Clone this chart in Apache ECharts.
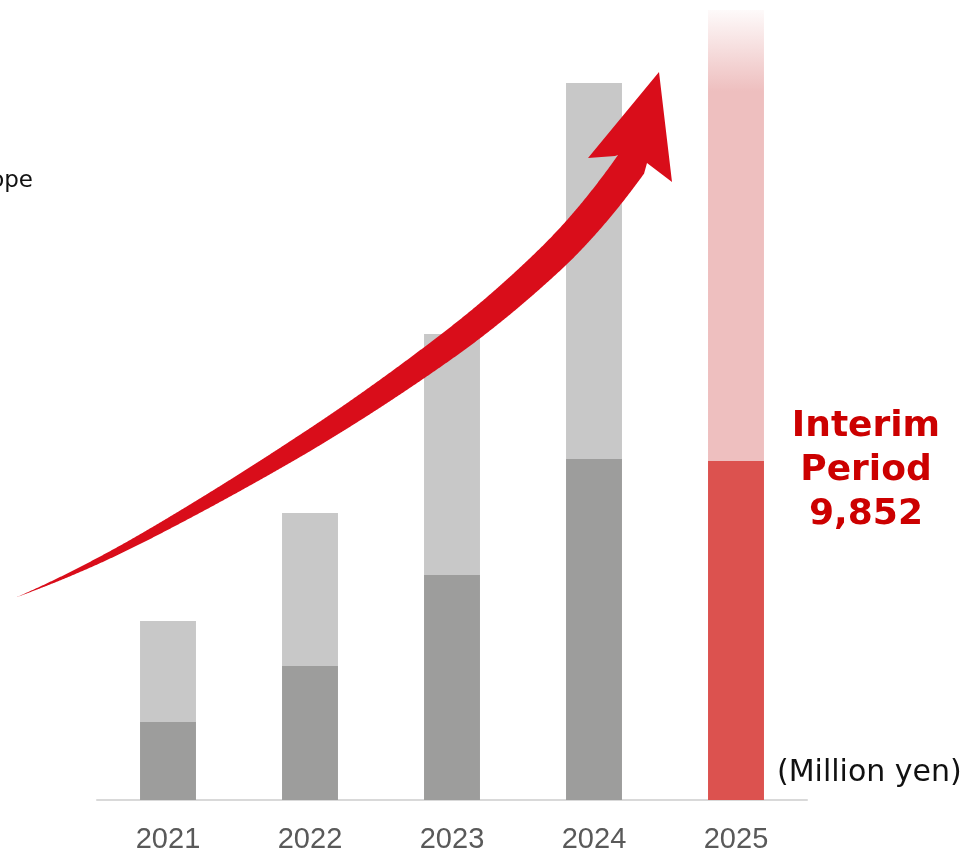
<!DOCTYPE html>
<html>
<head>
<meta charset="utf-8">
<script src="https://cdn.jsdelivr.net/npm/echarts@6/dist/echarts.min.js"></script>
<style>
html,body{margin:0;padding:0;background:#fff;}
#chart{width:970px;height:854px;}
</style>
</head>
<body>
<div id="chart"></div>
<script>
// ---- data (million yen) ----
var years = ['2021', '2022', '2023', '2024', '2025'];
var firstHalf = [2267, 3894, 6539, 9910, 9852];     // interim period (lower segment)
var secondHalf = [2935, 4446, 7004, 10927, 13107];  // remaining full-year (upper segment)
var interimLabel = 'Interim\nPeriod\n9,852';
var unitLabel = '(Million yen)';
var sideLabel = 'Scope';

var chart = echarts.init(document.getElementById('chart'), null, {renderer: 'canvas'});

var DARK = '#9d9d9c', LIGHT = '#c8c8c8', RED = '#dc524f', PINK = '#eebfbf';

var lowerData = firstHalf.map(function (v, i) {
  return i === 4 ? {value: v, itemStyle: {color: RED}} : v;
});
var upperData = secondHalf.map(function (v, i) {
  return i === 4 ? {value: v, itemStyle: {color: new echarts.graphic.LinearGradient(0, 0, 0, 1, [
    {offset: 0, color: 'rgba(238,191,191,0.08)'},
    {offset: 0.18, color: PINK},
    {offset: 1, color: PINK}
  ])}} : v;
});

// ---- decorative arrow geometry (smooth centerline from slope profile + tapering width) ----
var SX = [17, 150, 300, 450, 550, 631];
var SS = [-0.40, -0.55, -0.62, -0.74, -0.95, -1.40];
var WX = [17, 100, 200, 300, 450, 566, 631];
var WW = [0, 6, 12.5, 19, 26.5, 30.5, 32];
function lerpTable(X, Y, x) {
  if (x <= X[0]) return Y[0];
  for (var i = 1; i < X.length; i++) {
    if (x <= X[i]) {
      var f = (x - X[i-1]) / (X[i] - X[i-1]);
      return Y[i-1] + f * (Y[i] - Y[i-1]);
    }
  }
  return Y[Y.length-1];
}
function arrowPoints() {
  var upper = [], lower = [];
  var x = 17, y = 597, dx = 1;
  while (true) {
    var s = lerpTable(SX, SS, x);
    var len = Math.sqrt(1 + s*s);
    var nx = s/len, ny = -1/len; // upper-side normal
    var w = lerpTable(WX, WW, x) / 2;
    upper.push([x + nx*w, y + ny*w]);
    lower.push([x - nx*w, y - ny*w]);
    if (x >= 631) break;
    var s2 = lerpTable(SX, SS, Math.min(x + dx, 631));
    y += (s + s2) / 2 * dx;
    x = Math.min(x + dx, 631);
  }
  var pts = upper.slice();
  pts.push([615, 156]);
  pts.push([588, 158]);
  pts.push([659, 72]);
  pts.push([672, 182]);
  pts.push([647, 163]);
  for (var j = lower.length - 1; j >= 0; j--) pts.push(lower[j]);
  return pts;
}

var option = {
  backgroundColor: '#ffffff',
  animation: false,
  grid: {left: 97, right: 163, top: 0, bottom: 54, containLabel: false},
  xAxis: {
    type: 'category',
    data: years,
    axisLine: {show: true, lineStyle: {color: '#d9d9d9', width: 2}},
    axisTick: {show: false},
    axisLabel: {
      color: '#595959',
      fontFamily: '"Liberation Sans", Arial, sans-serif',
      fontSize: 29,
      margin: 25
    }
  },
  yAxis: {
    type: 'value',
    min: 0,
    max: 23250,
    show: false,
    splitLine: {show: false}
  },
  series: [
    {
      name: 'Interim',
      type: 'bar',
      stack: 'total',
      barWidth: '39.4%',
      itemStyle: {color: DARK},
      data: lowerData,
      z: 2
    },
    {
      name: 'Full year',
      type: 'bar',
      stack: 'total',
      barWidth: '39.4%',
      itemStyle: {color: LIGHT},
      data: upperData,
      z: 2
    }
  ],
  graphic: [
    {
      type: 'polygon',
      shape: {points: arrowPoints(), smooth: 0},
      style: {fill: '#d90d1a'},
      z: 10
    },
    {
      type: 'text',
      x: 866,
      y: 405,
      style: {
        text: interimLabel,
        fill: '#cc0000',
        font: 'bold 36px "DejaVu Sans", Verdana, sans-serif',
        textAlign: 'center',
        textVerticalAlign: 'top',
        lineHeight: 44
      },
      z: 10
    },
    {
      type: 'text',
      x: 777,
      y: 773,
      style: {
        text: unitLabel,
        fill: '#111111',
        font: '30px "DejaVu Sans", Verdana, sans-serif',
        textAlign: 'left',
        textVerticalAlign: 'middle'
      },
      z: 10
    },
    {
      type: 'text',
      x: 33,
      y: 181,
      style: {
        text: sideLabel,
        fill: '#111111',
        font: '23px "DejaVu Sans", Verdana, sans-serif',
        textAlign: 'right',
        textVerticalAlign: 'middle'
      },
      z: 10
    }
  ]
};
chart.setOption(option);
</script>
</body>
</html>
